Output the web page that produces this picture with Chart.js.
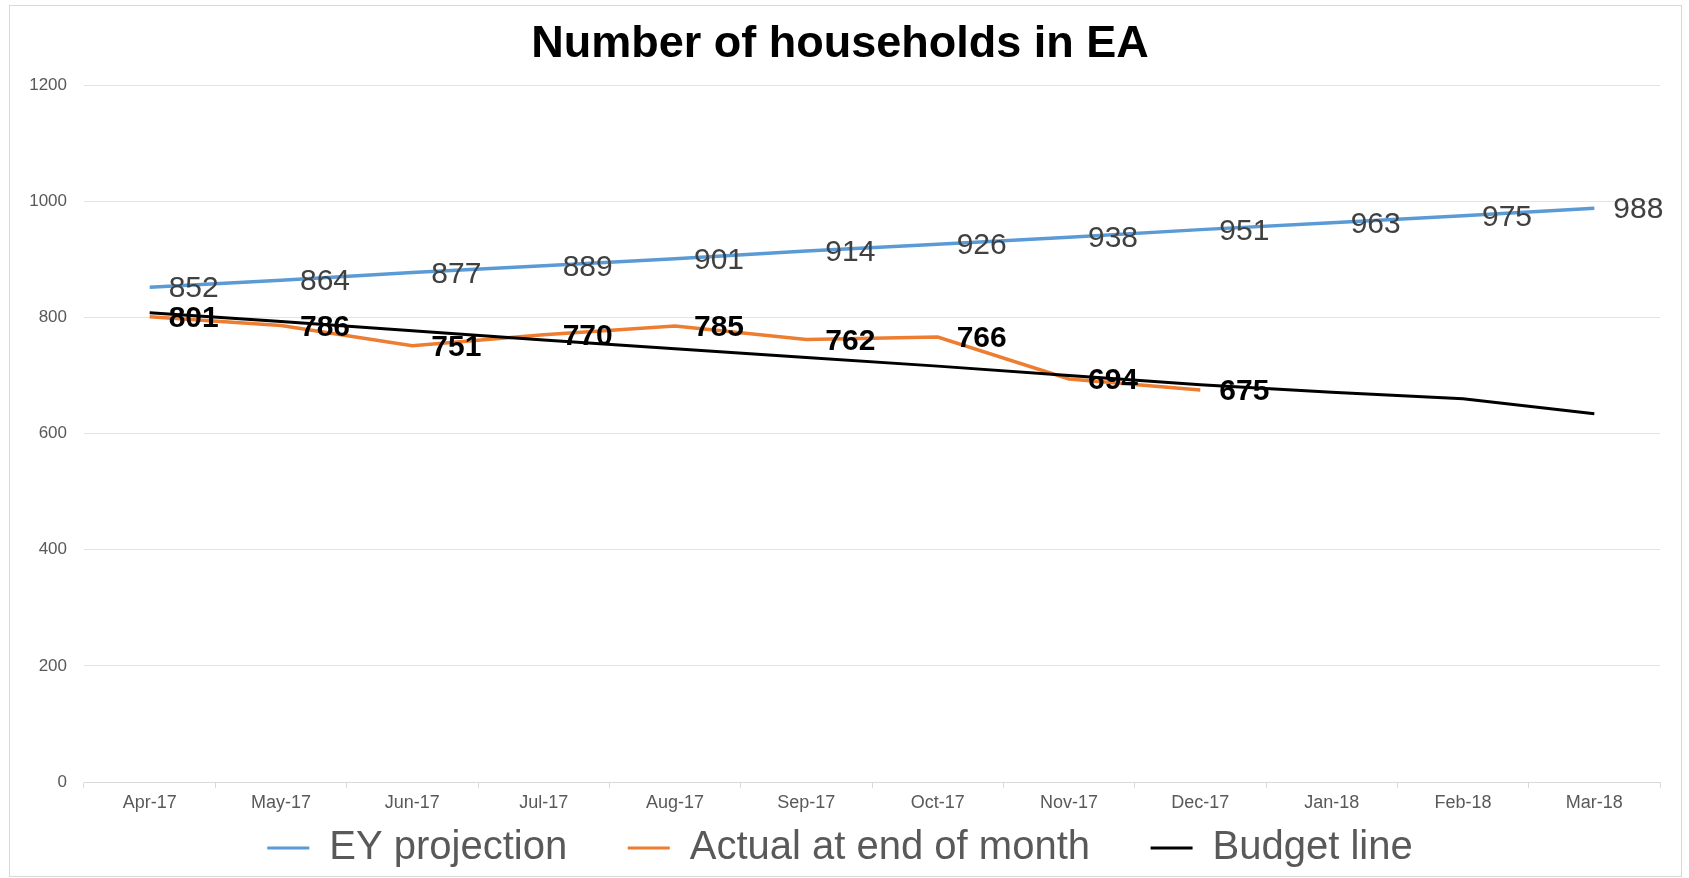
<!DOCTYPE html>
<html lang="en">
<head>
<meta charset="UTF-8">
<title>Number of households in EA</title>
<script src="https://cdn.jsdelivr.net/npm/chart.js"></script>
<style>
    html, body { margin: 0; padding: 0; background: #fff; }
    .wrap { position: relative; width: 1689px; height: 878px; }
    .frame {
        position: absolute; left: 9px; top: 5px; width: 1671px; height: 870px;
        border: 1px solid #d9d9d9; pointer-events: none;
    }
</style>
</head>
<body>
<div class="wrap">
    <canvas id="households" width="1689" height="878"></canvas>
    <div class="frame"></div>
</div>
<script>
// data
const months = ['Apr-17', 'May-17', 'Jun-17', 'Jul-17', 'Aug-17', 'Sep-17',
                'Oct-17', 'Nov-17', 'Dec-17', 'Jan-18', 'Feb-18', 'Mar-18'];
const eyProjection = [852, 864, 877, 889, 901, 914, 926, 938, 951, 963, 975, 988];
const actualEndOfMonth = [801, 786, 751, 770, 785, 762, 766, 694, 675, null, null, null];
const budgetLine = [808, 793, 777, 761, 746, 731, 716, 700, 684, 671, 660, 634];
const yMin = 0, yMax = 1200, yStep = 200;

// value labels to the right of each point (no datalabels plugin offline)
const pointLabels = {
    id: 'pointLabels',
    afterDatasetsDraw(chart, args, opts) {
        const ctx = chart.ctx;
        opts.sets.forEach(s => {
            const meta = chart.getDatasetMeta(s.index);
            const vals = chart.data.datasets[s.index].data;
            ctx.save();
            ctx.font = s.font;
            ctx.fillStyle = s.color;
            ctx.textAlign = 'left';
            ctx.textBaseline = 'middle';
            meta.data.forEach((pt, j) => {
                if (vals[j] == null) return;
                ctx.fillText(String(vals[j]), pt.x + 19, pt.y + 2);
            });
            ctx.restore();
        });
    }
};

const baseLabels = Chart.defaults.plugins.legend.labels.generateLabels;

new Chart(document.getElementById('households'), {
    type: 'line',
    data: {
        labels: months,
        datasets: [
            { label: 'EY projection', data: eyProjection, borderColor: '#5b9bd5', backgroundColor: '#5b9bd5', borderWidth: 3.5, order: 3 },
            { label: 'Actual at end of month', data: actualEndOfMonth, borderColor: '#ed7d31', backgroundColor: '#ed7d31', borderWidth: 3.5, order: 2 },
            { label: 'Budget line', data: budgetLine, borderColor: '#000000', backgroundColor: '#000000', borderWidth: 3, order: 1 }
        ]
    },
    options: {
        responsive: false,
        animation: false,
        devicePixelRatio: 1,
        elements: { point: { radius: 0 }, line: { tension: 0 } },
        layout: { padding: { left: 20, right: 29, top: 0, bottom: 0 } },
        scales: {
            x: {
                offset: true,
                grid: { offset: true, drawOnChartArea: false, color: '#d9d9d9', tickLength: 6 },
                border: { color: '#d9d9d9' },
                ticks: { color: '#595959', padding: 4, font: { family: "'Liberation Sans Narrow', 'Liberation Sans', Arial", size: 18 } },
                afterFit(scale) { scale.height = 41; }
            },
            y: {
                min: yMin, max: yMax,
                ticks: {
                    stepSize: yStep, color: '#595959', padding: 17,
                    font: { family: "'Liberation Sans', Arial", size: 17 },
                    callback: v => String(v)
                },
                grid: { color: '#e3e3e3', drawTicks: false },
                border: { display: false },
                afterFit(scale) { scale.width = 64; }
            }
        },
        plugins: {
            title: {
                display: true,
                text: 'Number of households in EA',
                color: '#000',
                font: { family: "'Liberation Sans', Arial", size: 45, weight: 'bold' },
                padding: { top: 18, bottom: 13 }
            },
            legend: {
                position: 'bottom',
                labels: {
                    color: '#595959',
                    font: { family: "'Liberation Sans', Arial", size: 40 },
                    boxWidth: 42,
                    boxHeight: 3,
                    padding: 5,
                    sort: (a, b) => a.datasetIndex - b.datasetIndex,
                    generateLabels(chart) {
                        const items = baseLabels(chart);
                        items.forEach(it => {
                            it.lineWidth = 0;
                            it.fillStyle = it.strokeStyle;
                            if (it.datasetIndex < 2) it.text = it.text + '\u00a0\u00a0\u00a0\u00a0\u00a0';
                        });
                        return items;
                    }
                }
            },
            tooltip: { enabled: false },
            pointLabels: {
                sets: [
                    { index: 0, font: "30px 'Liberation Sans', Arial", color: '#404040' },
                    { index: 1, font: "bold 30px 'Liberation Sans', Arial", color: '#000000' }
                ]
            }
        }
    },
    plugins: [pointLabels]
});
</script>
</body>
</html>
